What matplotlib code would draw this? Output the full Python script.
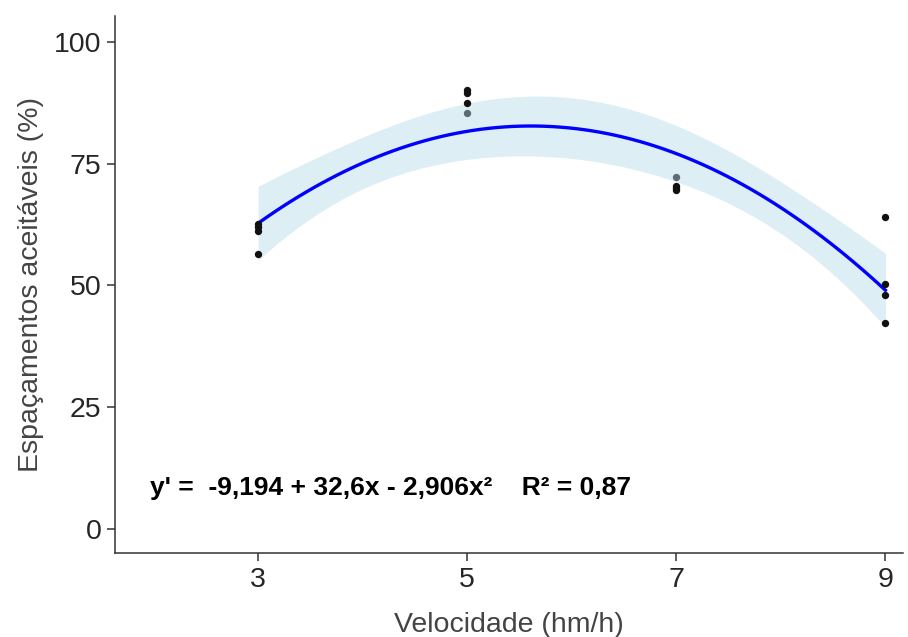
import numpy as np
import matplotlib
matplotlib.use("Agg")
import matplotlib.pyplot as plt

# ---- data ----
speed_levels = [3, 5, 7, 9]
obs_speed = [3, 3, 3, 3, 5, 5, 5, 7, 7, 7, 9, 9, 9, 9]
obs_value = [62.6, 62.0, 61.2, 56.5, 90.2, 89.4, 87.5, 70.5, 70.0, 69.5, 64.1, 50.3, 48.0, 42.3]
obs_speed_light = [5, 7]
obs_value_light = [85.4, 72.2]
y_ticks = [0, 25, 50, 75, 100]
equation_text = "y' =  -9,194 + 32,6x - 2,906x²    R² = 0,87"
x_title = "Velocidade (hm/h)"
y_title = "Espaçamentos aceitáveis (%)"

plt.rcParams['font.family'] = ['Liberation Sans', 'DejaVu Sans']

fig = plt.figure(figsize=(9.08, 6.37), dpi=100)
ax = fig.add_axes([0.1267, 0.1319, 0.868, 0.843])

# quadratic fit with 95% confidence band (like geom_smooth lm poly 2)
xa = np.array(obs_speed + obs_speed_light, dtype=float)
ya = np.array(obs_value + obs_value_light, dtype=float)
X = np.column_stack([np.ones_like(xa), xa, xa ** 2])
beta, *_ = np.linalg.lstsq(X, ya, rcond=None)
resid = ya - X @ beta
dof = len(ya) - 3
s2 = resid @ resid / dof
cov = s2 * np.linalg.inv(X.T @ X)
grid = np.linspace(min(speed_levels), max(speed_levels), 80)
G = np.column_stack([np.ones_like(grid), grid, grid ** 2])
fit = G @ beta
se = np.sqrt(np.einsum('ij,jk,ik->i', G, cov, G))
tval = 2.160  # t(0.975, df=13)
ax.fill_between(grid, fit - tval * se, fit + tval * se, color='#DDEEF5', lw=0, zorder=1)
ax.plot(grid, fit, color='#0000FF', lw=2.4, zorder=3)

ax.scatter(obs_speed, obs_value, s=28, color='#111111', zorder=4, lw=0)
ax.scatter(obs_speed_light, obs_value_light, s=28, color='#5F6B73', zorder=4, lw=0)

ax.text(1.967, 8.4, equation_text, fontsize=19, fontweight='bold', ha='left', va='center', color='black')

ax.set_xlim(1.632, 9.17)
ax.set_ylim(-4.93, 105.3)
ax.set_xticks(speed_levels)
ax.set_yticks(y_ticks)
ax.tick_params(axis='both', labelsize=20.5, length=5.8, width=1.1, color='#333333', labelcolor='#262626', pad=4)
for side in ['top', 'right']:
    ax.spines[side].set_visible(False)
for side in ['left', 'bottom']:
    ax.spines[side].set_linewidth(1.1)
    ax.spines[side].set_color('#333333')
ax.set_xlabel(x_title, fontsize=20.5, color='#444444', labelpad=14)
ax.set_ylabel(y_title, fontsize=20.5, color='#444444', labelpad=7)

fig.savefig('out.png', dpi=100)
